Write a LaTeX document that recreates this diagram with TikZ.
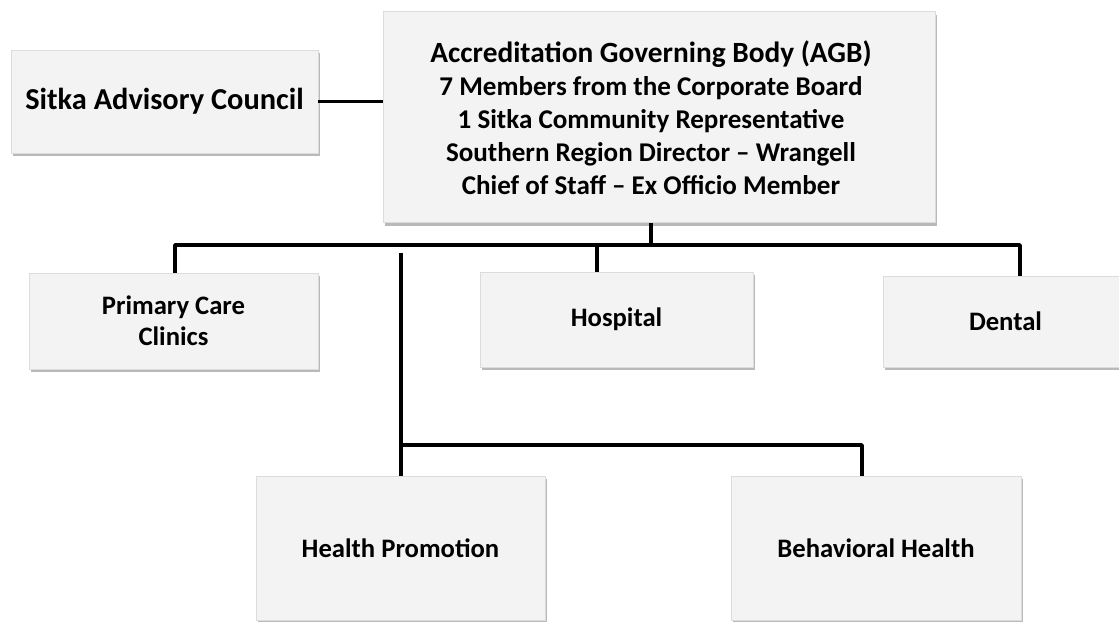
\documentclass[tikz,border=0pt]{standalone}
\usepackage{fontspec}
\setmainfont{Carlito}
\usetikzlibrary{shadows}
\definecolor{boxfill}{HTML}{F3F3F3}
\definecolor{boxline}{HTML}{DCDCDC}
\tikzset{
  unitbox/.style={draw=boxline, fill=boxfill, line width=0.6pt, inner sep=0pt, align=center,
    drop shadow={shadow xshift=1.2pt, shadow yshift=-2.6pt, fill=black!50, opacity=0.55}},
  bigtext/.style={font=\bfseries\fontsize{20.3}{24.75}\selectfont},
  smalltext/.style={font=\bfseries\fontsize{20}{23.25}\selectfont},
  link/.style={line width=2.8pt, black, line join=round},
}
\begin{document}
\begin{tikzpicture}[x=0.75pt,y=-0.75pt]
\useasboundingbox (0,0) rectangle (1119,621);
\clip (0,0) rectangle (1119,621);

% top row
\node[unitbox, font=\bfseries\fontsize{22.8}{26}\selectfont, minimum width=230.25pt, minimum height=77.25pt] (council) at (164.5,101.5) {Sitka Advisory Council};
\node[unitbox, minimum width=414pt, minimum height=158.25pt] (agb) at (659,117) {};
\node[bigtext, align=center, inner sep=0pt] (agb text) at (651,118)
  {{\fontsize{22}{25}\selectfont Accreditation Governing Body (AGB)}\\
   7 Members from the Corporate Board\\
   1 Sitka Community Representative\\
   Southern Region Director -- Wrangell\\
   Chief of Staff -- Ex Officio Member};

% middle row
\node[unitbox, smalltext, minimum width=216.75pt, minimum height=72pt] (primary) at (173.5,321) {Primary Care\\Clinics};
\node[unitbox, smalltext, minimum width=204.75pt, minimum height=71.25pt] (hospital) at (616.5,319.5) {Hospital};
\node[unitbox, smalltext, minimum width=183.75pt, minimum height=68.25pt] (dental) at (1005.5,321.5) {Dental};

% bottom row
\node[unitbox, smalltext, minimum width=216.75pt, minimum height=108pt] (health) at (400.5,548) {Health Promotion};
\node[unitbox, smalltext, minimum width=217.5pt, minimum height=108pt] (behav) at (876,548) {Behavioral Health};

% connectors
\coordinate (stem) at (651,245);
\coordinate (bus left) at (175,245);
\coordinate (bus right) at (1020,245);
\coordinate (hosp tap) at (597,245);
\coordinate (split) at (401,253);
\coordinate (split mid) at (401,445);
\coordinate (split end) at (862,445);

\draw[link] (council.east) -- (council.east -| agb.west);
\draw[link] (stem |- agb.south) -- (stem);
\draw[link] (bus left |- primary.north) -- (bus left) -- (bus right) -- (bus right |- dental.north);
\draw[link] (hosp tap) -- (hosp tap |- hospital.north);
\draw[link] (split) -- (split |- health.north);
\draw[link] (split mid) -- (split end) -- (split end |- behav.north);
\end{tikzpicture}
\end{document}
